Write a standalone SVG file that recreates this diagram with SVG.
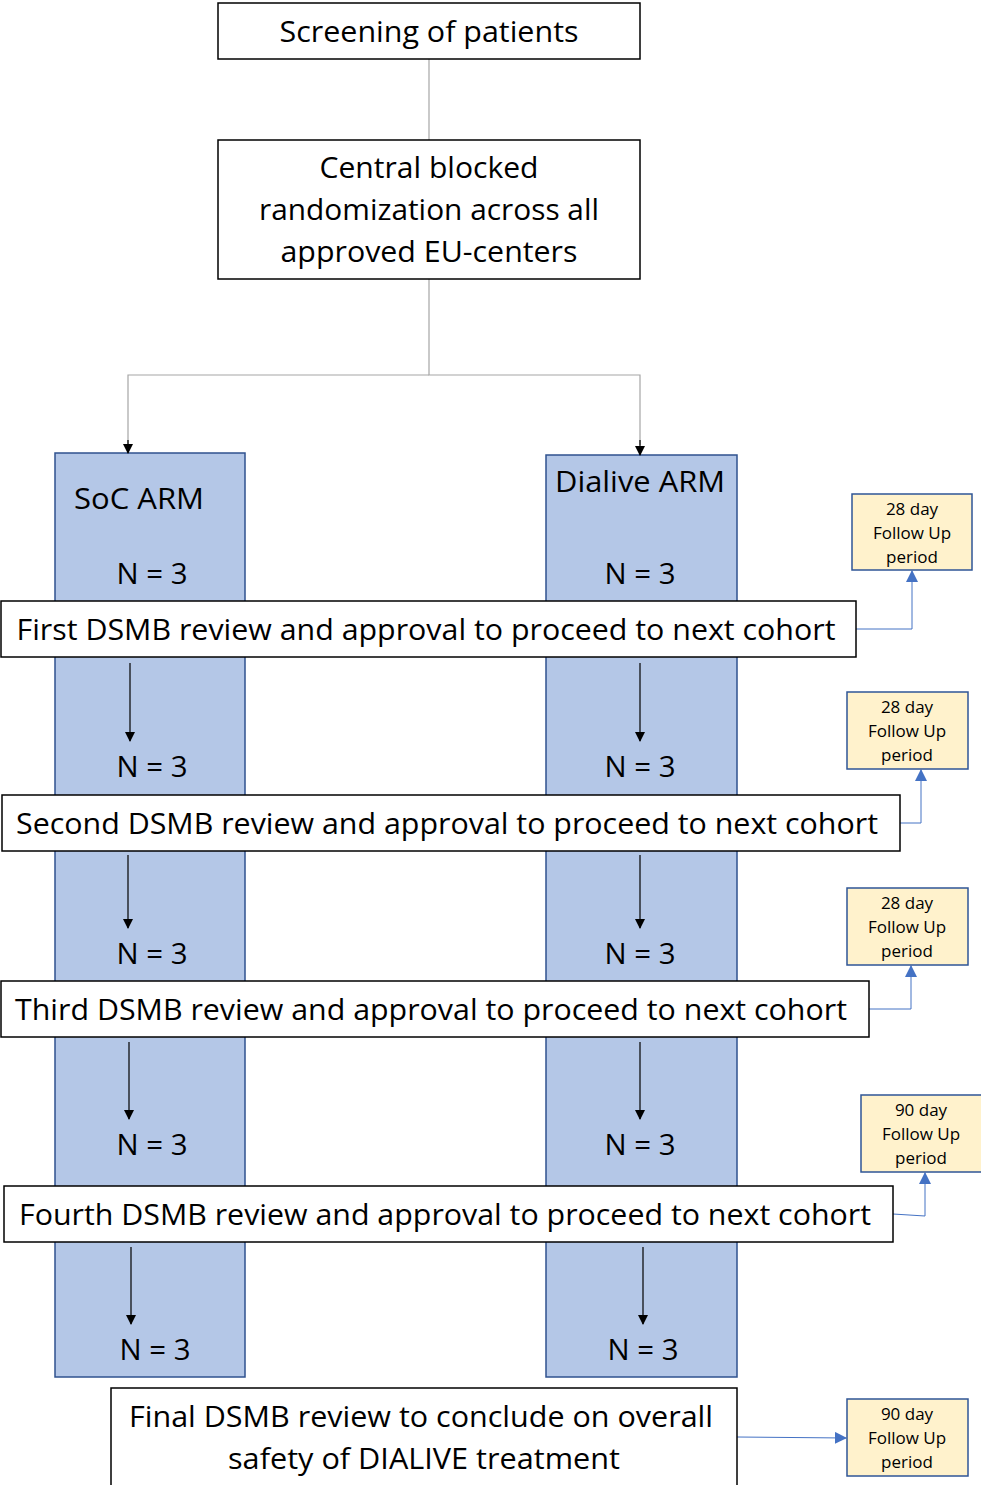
<svg xmlns="http://www.w3.org/2000/svg" width="981" height="1485" viewBox="0 0 981 1485">
<style>
.t{font-family:"Open Sans","Liberation Sans",sans-serif;font-size:29px;fill:#000;text-anchor:middle}
.s{font-family:"Open Sans","Liberation Sans",sans-serif;font-size:17px;fill:#000;text-anchor:middle}
.box{fill:#fff;stroke:#000;stroke-width:1.5}
.arm{fill:#b4c7e7;stroke:#2f528f;stroke-width:1.5}
.fu{fill:#fff2cc;stroke:#2f5597;stroke-width:1.5}
.gl{fill:none;stroke:#a6a6a6;stroke-width:1.2}
.bl{fill:none;stroke:#000;stroke-width:1.2}
.bu{fill:none;stroke:#4472c4;stroke-width:1}
</style>
<defs>
<marker id="ak" markerWidth="10" markerHeight="10" refX="9" refY="5" orient="auto" markerUnits="userSpaceOnUse"><path d="M0,0 L10,5 L0,10 Z" fill="#000"/></marker>
<marker id="ab" markerWidth="12" markerHeight="12" refX="11" refY="6" orient="auto" markerUnits="userSpaceOnUse"><path d="M0,0 L12,6 L0,12 Z" fill="#4472c4"/></marker>
</defs>
<rect width="981" height="1485" fill="#fff"/>

<g id="arm-soc"><rect class="arm" x="55" y="453" width="190" height="924"/>
<text class="t" x="139" y="509" textLength="130" lengthAdjust="spacingAndGlyphs">SoC ARM</text></g>
<g id="arm-dialive"><rect class="arm" x="546" y="455" width="191" height="922"/>
<text class="t" x="640" y="492" textLength="170" lengthAdjust="spacingAndGlyphs">Dialive ARM</text></g>

<g id="n-values">
<text class="t" x="152" y="584" textLength="71" lengthAdjust="spacingAndGlyphs">N = 3</text>
<text class="t" x="640" y="584" textLength="71" lengthAdjust="spacingAndGlyphs">N = 3</text>
<text class="t" x="152" y="777" textLength="71" lengthAdjust="spacingAndGlyphs">N = 3</text>
<text class="t" x="640" y="777" textLength="71" lengthAdjust="spacingAndGlyphs">N = 3</text>
<text class="t" x="152" y="964" textLength="71" lengthAdjust="spacingAndGlyphs">N = 3</text>
<text class="t" x="640" y="964" textLength="71" lengthAdjust="spacingAndGlyphs">N = 3</text>
<text class="t" x="152" y="1155" textLength="71" lengthAdjust="spacingAndGlyphs">N = 3</text>
<text class="t" x="640" y="1155" textLength="71" lengthAdjust="spacingAndGlyphs">N = 3</text>
<text class="t" x="155" y="1360" textLength="71" lengthAdjust="spacingAndGlyphs">N = 3</text>
<text class="t" x="643" y="1360" textLength="71" lengthAdjust="spacingAndGlyphs">N = 3</text>
</g>

<g id="connectors">
<path class="gl" d="M429,59 V140"/>
<path class="gl" d="M429,279 V375 H640 V445"/>
<path class="gl" d="M429,375 H128 V445"/>
<path class="bl" d="M128,440 V453" marker-end="url(#ak)"/>
<path class="bl" d="M640,440 V455" marker-end="url(#ak)"/>
<path class="bl" d="M130,663 V741" marker-end="url(#ak)"/>
<path class="bl" d="M640,663 V741" marker-end="url(#ak)"/>
<path class="bl" d="M128,855 V928" marker-end="url(#ak)"/>
<path class="bl" d="M640,855 V928" marker-end="url(#ak)"/>
<path class="bl" d="M129,1042 V1119" marker-end="url(#ak)"/>
<path class="bl" d="M640,1042 V1119" marker-end="url(#ak)"/>
<path class="bl" d="M131,1247 V1324" marker-end="url(#ak)"/>
<path class="bl" d="M643,1247 V1324" marker-end="url(#ak)"/>
<path class="bu" stroke="#8faadc" d="M856,629 H912 V571" marker-end="url(#ab)"/>
<path class="bu" d="M900,823 H921 V770" marker-end="url(#ab)"/>
<path class="bu" stroke="#8faadc" d="M869,1009 H911 V966" marker-end="url(#ab)"/>
<path class="bu" stroke="#8faadc" d="M893,1214 L925,1216 V1173" marker-end="url(#ab)"/>
<path class="bu" d="M737,1437 L846,1438" marker-end="url(#ab)"/>
</g>

<g id="screening"><rect class="box" x="218" y="3" width="422" height="56"/>
<text class="t" x="429" y="42" textLength="299" lengthAdjust="spacingAndGlyphs">Screening of patients</text></g>
<g id="randomization"><rect class="box" x="218" y="140" width="422" height="139"/>
<text class="t" x="429" y="178" textLength="219" lengthAdjust="spacingAndGlyphs">Central blocked</text>
<text class="t" x="429" y="220" textLength="340" lengthAdjust="spacingAndGlyphs">randomization across all</text>
<text class="t" x="429" y="262" textLength="297" lengthAdjust="spacingAndGlyphs">approved EU-centers</text></g>

<g id="dsmb1"><rect class="box" x="1" y="601" width="855" height="56"/>
<text class="t" x="426" y="640" textLength="819" lengthAdjust="spacingAndGlyphs">First DSMB review and approval to proceed to next cohort</text></g>
<g id="dsmb2"><rect class="box" x="2" y="795" width="898" height="56"/>
<text class="t" x="447" y="834" textLength="862" lengthAdjust="spacingAndGlyphs">Second DSMB review and approval to proceed to next cohort</text></g>
<g id="dsmb3"><rect class="box" x="1" y="981" width="868" height="56"/>
<text class="t" x="431" y="1020" textLength="832" lengthAdjust="spacingAndGlyphs">Third DSMB review and approval to proceed to next cohort</text></g>
<g id="dsmb4"><rect class="box" x="4" y="1186" width="889" height="56"/>
<text class="t" x="445" y="1225" textLength="852" lengthAdjust="spacingAndGlyphs">Fourth DSMB review and approval to proceed to next cohort</text></g>
<g id="dsmb-final"><rect class="box" x="111" y="1388" width="626" height="110"/>
<text class="t" x="421" y="1427" textLength="584" lengthAdjust="spacingAndGlyphs">Final DSMB review to conclude on overall</text>
<text class="t" x="424" y="1469" textLength="392" lengthAdjust="spacingAndGlyphs">safety of DIALIVE treatment</text></g>

<g id="fu1"><rect class="fu" x="852" y="494" width="120" height="76"/>
<text class="s" x="912" y="515">28 day</text><text class="s" x="912" y="539">Follow Up</text><text class="s" x="912" y="563">period</text></g>
<g id="fu2"><rect class="fu" x="847" y="692" width="121" height="77"/>
<text class="s" x="907" y="713">28 day</text><text class="s" x="907" y="737">Follow Up</text><text class="s" x="907" y="761">period</text></g>
<g id="fu3"><rect class="fu" x="847" y="888" width="121" height="77"/>
<text class="s" x="907" y="909">28 day</text><text class="s" x="907" y="933">Follow Up</text><text class="s" x="907" y="957">period</text></g>
<g id="fu4"><rect class="fu" x="861" y="1095" width="121" height="77"/>
<text class="s" x="921" y="1116">90 day</text><text class="s" x="921" y="1140">Follow Up</text><text class="s" x="921" y="1164">period</text></g>
<g id="fu5"><rect class="fu" x="847" y="1399" width="121" height="77"/>
<text class="s" x="907" y="1420">90 day</text><text class="s" x="907" y="1444">Follow Up</text><text class="s" x="907" y="1468">period</text></g>
</svg>
